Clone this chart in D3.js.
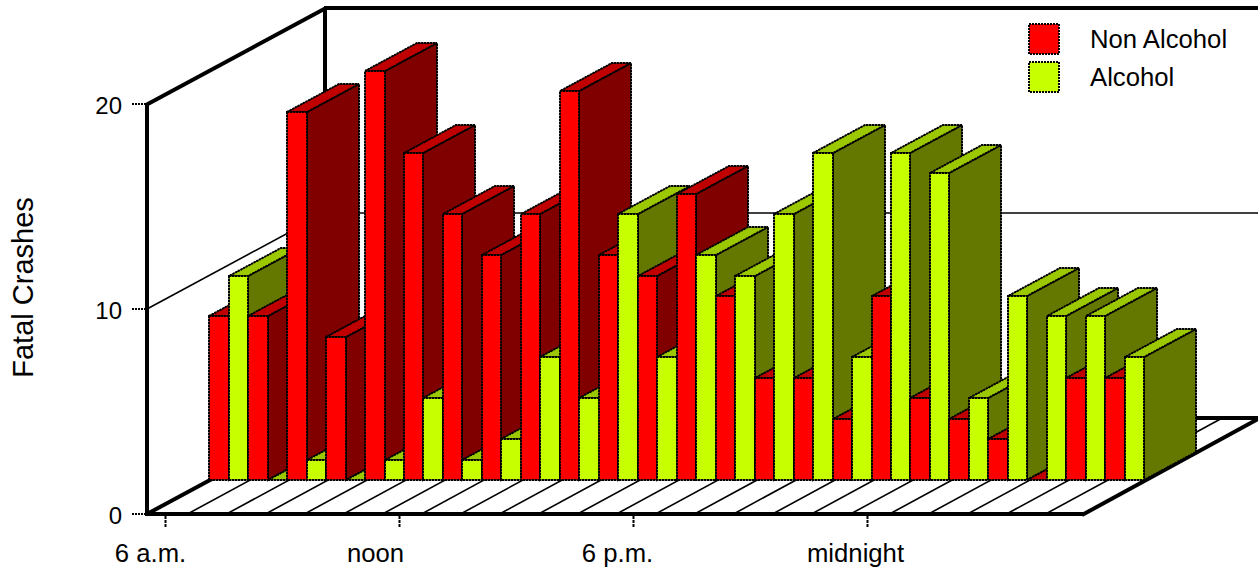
<!DOCTYPE html>
<html>
<head>
<meta charset="utf-8">
<script src="https://cdnjs.cloudflare.com/ajax/libs/d3/7.8.5/d3.min.js"></script>
<style>
html,body{margin:0;padding:0;background:#fff;overflow:hidden}
svg{display:block}
text{font-family:"Liberation Sans",Arial,sans-serif;fill:#000}
</style>
</head>
<body>
<svg id="c" width="1258" height="569"></svg>
<script>
const hours = d3.range(24);
const seriesNames = ["Non Alcohol", "Alcohol"];
const nonAlcohol = [8,8,18,7,20,16,13,11,13,19,11,10,14,9,5,5,3,9,4,3,2,0,5,5];
const alcohol = [10,0,1,0,1,4,1,2,6,4,13,6,11,10,13,16,6,16,15,4,9,8,8,6];
const yTicks = [0,10,20];
const xTickHours = [0,6,12,18];
const xTickLabels = ["6 a.m.","noon","6 p.m.","midnight"];
const xLabelShift = [-15,-24,-16,-12];

const svg = d3.select("#c");
const x = d3.scaleBand().domain(hours).range([146,1082]);
const xBar = d3.scaleBand().domain(hours).range([209.2,209.2+24*38.96]);
const y = d3.scaleLinear().domain([0,20]).range([514,104]);
const barH = d3.scaleLinear().domain([0,20]).range([0,409]);
const color = d3.scaleOrdinal().domain(seriesNames).range(["#ff0000","#c8ff00"]);
const topColor = d3.scaleOrdinal().domain(seriesNames).range(["#c00000","#9cc800"]);
const sideColor = d3.scaleOrdinal().domain(seriesNames).range(["#800000","#647800"]);

const wallDx = 178, wallDy = 96;
const left = 147, right = 1083, y0 = y(0), y20 = y(20);

function line(g,x1,y1,x2,y2,w,extra){
  const l = g.append("line").attr("x1",x1).attr("y1",y1).attr("x2",x2).attr("y2",y2)
    .attr("stroke","#000").attr("stroke-width",w);
  if(extra) l.attr("stroke-dasharray",extra);
  return l;
}
const frame = svg.append("g");
// floor stripes
hours.slice(0,23).forEach(h=>{
  const sx = x(h)+x.step()+2.5;
  line(frame,sx,y0,sx+wallDx-3,y0-wallDy+1,1.6);
});
// walls
line(frame,left+wallDx,y20-wallDy,left+wallDx,y0-wallDy,4);
line(frame,left,y0,left,y20,4);
line(frame,left-1,y20+1,left+wallDx+1,y20-wallDy,4);
line(frame,left+wallDx-1,y20-wallDy,1258,y20-wallDy,4);
line(frame,left,y(10),left+wallDx,y(10)-wallDy,1.6);
line(frame,left+wallDx,y(10)-wallDy,1258,y(10)-wallDy,1.6);
line(frame,left,y0,left+wallDx,y0-wallDy,4);
line(frame,left+wallDx,y0-wallDy,1258,y0-wallDy,4);
line(frame,left-2,y0,right,y0,4);
line(frame,right-1,y0+1,1258,y0-wallDy+1,4);

// y ticks
yTicks.forEach(t=>{
  line(frame,132,y(t),left,y(t),2,"2 1");
  svg.append("text").attr("x",122).attr("y",y(t)+9.5).attr("text-anchor","end")
    .attr("font-size",24).text(t);
});
// x ticks
xTickHours.forEach((h,i)=>{
  const tx = x(h)+x.bandwidth()/2;
  line(frame,tx,516,tx,528,2,"3 1");
  svg.append("text").attr("x",tx+xLabelShift[i]).attr("y",562).attr("text-anchor","middle")
    .attr("font-size",25.7).text(xTickLabels[i]);
});
svg.append("text").attr("transform","translate(33,287.5) rotate(-90)")
  .attr("text-anchor","middle").attr("font-size",29).text("Fatal Crashes");

// bars
const baseY = 480, barDx = 52, barDy = 28;
const barStyle = s=>s.attr("stroke","#000").attr("stroke-width",2).attr("stroke-dasharray","2 1")
  .attr("stroke-linejoin","miter");
const bars = svg.append("g");
function face(g,pts,fill){
  const p = pts.join(" ");
  g.append("polygon").attr("points",p).attr("fill",fill).call(barStyle);
  g.append("polygon").attr("points",p).attr("fill","none").attr("stroke","#000").attr("stroke-width",1);
}
function bar(h,si,v){
  const name = seriesNames[si];
  const w = xBar.step()/2;
  const bx = Math.round(xBar(h)+si*w);
  const bw = Math.round(xBar(h)+(si+1)*w)-bx;
  const top = Math.round(baseY-barH(v));
  const g = bars.append("g");
  face(g,[[bx+bw,top],[bx+bw+barDx,top-barDy],[bx+bw+barDx,baseY-barDy],[bx+bw,baseY]],sideColor(name));
  face(g,[[bx,top],[bx+bw,top],[bx+bw+barDx,top-barDy],[bx+barDx,top-barDy]],topColor(name));
  if(v>0) face(g,[[bx,top],[bx+bw,top],[bx+bw,baseY],[bx,baseY]],color(name));
  else line(g,bx,baseY,bx+bw,baseY,2,"2 1");
}
hours.forEach(h=>{ bar(h,0,nonAlcohol[h]); bar(h,1,alcohol[h]); });

// legend
const legY = d3.scalePoint().domain(seriesNames).range([39,77]);
seriesNames.forEach(n=>{
  svg.append("rect").attr("x",1029).attr("y",legY(n)-15).attr("width",30).attr("height",30)
    .attr("fill",color(n)).call(barStyle);
  svg.append("text").attr("x",1090).attr("y",legY(n)+9).attr("font-size",25.7).text(n);
});
</script>
</body>
</html>
